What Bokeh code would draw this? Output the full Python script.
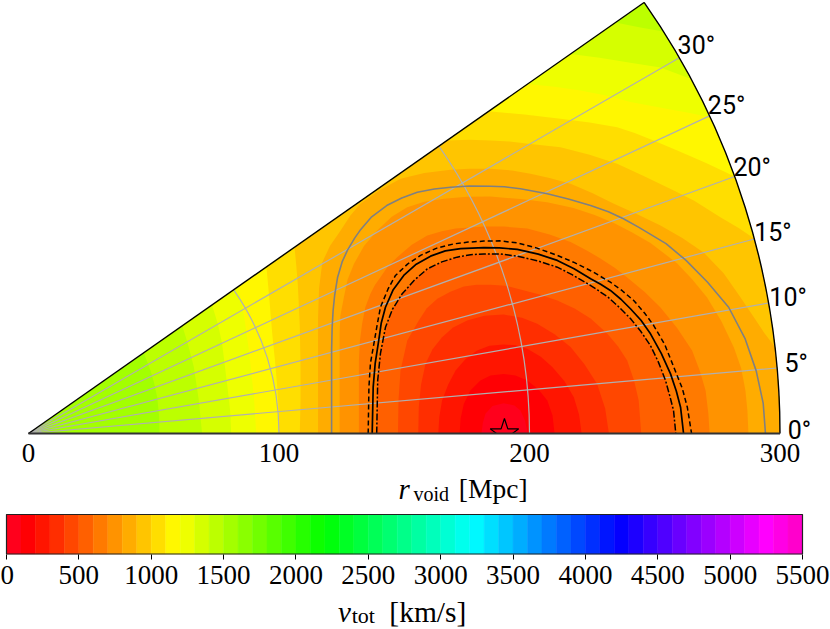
from math import atan2, cos, hypot, radians, sin

import numpy as np
from bokeh.embed import file_html
from bokeh.layouts import column
from bokeh.models import FixedTicker, Label, LinearAxis, Range1d
from bokeh.plotting import figure
from bokeh.resources import INLINE

# contour crossings, in Mpc
x_100 = [180.8, 181.4, 182.4, 185.2, 189.7, 194.0, 196.4, 198.2, 199.3]
y_100 = [0, 4.4, 7.9, 11.0, 12.1, 11.2, 9.2, 5.2, 0]
x_200 = [172.1, 172.5, 173.8, 176.4, 180.4, 184.4, 189.7, 194.4, 199.1, 203.6, 207.1, 209.2, 210.0]
y_200 = [0, 6.0, 11.9, 17.2, 21.2, 23.2, 23.8, 23.2, 21.2, 17.6, 13.2, 7.2, 0]
x_300 = [163.6, 164.0, 165.1, 167.5, 170.5, 174.5, 179.1, 184.0, 189.7, 194.5, 199.1, 204.5, 209.1, 213.9, 217.7, 219.8, 220.8]
y_300 = [0, 6.6, 13.2, 19.5, 25.1, 29.7, 33.1, 35.0, 35.5, 35.2, 33.8, 30.6, 26.5, 21.0, 14.5, 7.5, 0]
x_400 = [155.6, 155.8, 156.7, 158.5, 161.3, 165.1, 169.5, 175.1, 182.0, 189.7, 197.0, 203.1, 210.0, 216.4, 222.0, 227.0, 230.2, 231.7]
y_400 = [0, 10.5, 19.5, 27.8, 33.6, 38.4, 42.3, 45.1, 47.0, 47.5, 46.2, 43.8, 39.6, 34.5, 27.5, 19.8, 10.0, 0]
x_500 = [147.5, 147.7, 148.5, 151.2, 155.8, 159.0, 163.2, 168.4, 173.8, 178.9, 184.4, 190.4, 196.4, 204.0, 211.1, 218.0, 224.4, 231.0, 235.3, 239.0, 241.8, 243.6, 244.6]
y_500 = [0, 13.2, 25.1, 37.1, 45.1, 50.0, 53.8, 56.6, 58.7, 59.4, 59.4, 59.0, 57.5, 55.5, 53.1, 49.9, 45.9, 39.9, 34.8, 29.1, 21.0, 13.2, 0]
x_600 = [139.0, 139.4, 140.5, 142.5, 145.3, 149.2, 154.0, 159.2, 165.0, 171.1, 176.5, 181.8, 188.5, 195.1, 203.0, 211.1, 217.0, 223.0, 227.3, 231.5, 236.0, 240.3, 244.4, 248.3, 251.5, 254.3, 256.0, 257.5, 258.4]
y_600 = [0, 21.2, 32.0, 42.4, 49.6, 55.8, 61.2, 65.7, 68.5, 70.4, 71.4, 71.7, 71.7, 70.8, 69.0, 66.4, 63.4, 59.9, 57.2, 54.3, 50.2, 45.9, 40.8, 35.1, 28.4, 21.2, 15.0, 9.2, 0]
x_700 = [131.9, 131.9, 131.9, 132.3, 133.2, 134.5, 136.5, 138.3, 140.5, 143.5, 147.2, 153.0, 159.2, 165.0, 170.5, 181.6, 190.0, 199.1, 208.0, 216.4, 222.5, 228.3, 234.0, 239.0, 246.0, 252.3, 259.0, 264.9, 268.0, 270.3, 271.4, 271.9]
y_700 = [0, 15.2, 29.1, 37.0, 43.9, 50.5, 55.8, 59.3, 62.4, 66.8, 70.4, 75.3, 79.0, 80.7, 81.8, 82.6, 82.6, 81.8, 79.4, 76.4, 73.3, 69.9, 66.2, 62.3, 56.5, 50.3, 42.0, 33.1, 25.0, 17.2, 8.0, 0]
x_800 = [124.2, 124.2, 124.2, 124.5, 125.9, 127.4, 129.9, 134.0, 139.2, 145.0, 151.2, 158.0, 165.8, 175.0, 184.4, 196.4, 207.0, 217.6, 226.0, 233.7, 241.0, 248.3, 259.0, 265.0, 270.9, 276.5, 281.6, 284.5, 286.2, 287.0, 287.4]
y_800 = [0, 19.2, 39.9, 47.0, 54.4, 61.5, 67.7, 75.0, 81.0, 86.5, 90.3, 92.5, 93.7, 94.5, 94.6, 93.6, 92.3, 90.0, 87.2, 84.0, 80.2, 76.0, 67.9, 61.5, 54.3, 45.0, 34.3, 26.0, 17.2, 9.0, 0]
x_900 = [115.6, 115.6, 115.6, 116.0, 117.3, 120.4, 124.6, 128.5, 132.5, 140.0, 148.5, 158.0, 168.5, 176.0, 184.4, 193.0, 200.4, 208.0, 216.4, 225.0, 233.7, 243.0, 252.3, 261.0, 269.5, 277.5, 284.2, 289.5, 293.8, 298.0]
y_900 = [0, 20.0, 46.4, 58.0, 68.4, 75.0, 81.0, 87.0, 91.7, 97.0, 101.7, 104.0, 105.3, 105.7, 105.7, 105.0, 103.7, 102.0, 99.7, 96.0, 91.7, 87.5, 83.0, 78.0, 72.3, 64.0, 54.4, 46.5, 40.0, 34.5]
x_1000 = [108.3, 108.6, 108.6, 108.3, 107.5, 106.9, 106.2, 167.1, 176.0, 184.4, 192.0, 200.4, 212.4, 224.0, 235.0, 246.0, 257.6, 265.6, 276.2, 283.5, 289.8]
y_1000 = [0, 13.0, 26.5, 43.0, 59.8, 67.0, 74.4, 117.0, 117.3, 117.0, 116.6, 115.6, 114.3, 111.3, 107.7, 102.6, 97.0, 93.0, 86.3, 82.0, 77.7]
x_1100 = [99.9, 99.9, 99.3, 98.4, 97.3, 96.2, 95.0, 183.6, 198.0, 212.4, 224.0, 235.0, 242.0, 249.5, 259.0, 270.5, 281.9]
y_1100 = [0, 9.0, 18.5, 29.0, 39.8, 53.1, 66.5, 128.6, 127.3, 125.6, 124.2, 122.3, 120.0, 117.0, 113.0, 108.0, 102.6]
x_1200 = [90.9, 90.0, 88.0, 86.2, 83.8, 199.2, 210.0, 220.4, 231.0, 240.3, 256.3, 264.0, 272.0]
y_1200 = [0, 14.4, 33.1, 45.9, 58.7, 139.5, 138.4, 136.9, 134.8, 132.3, 129.3, 127.9, 126.2]
x_1300 = [80.9, 80.5, 79.6, 77.3, 75.6, 73.3, 216.4, 228.0, 239.0, 252.3, 264.0]
y_1300 = [0, 9.0, 17.2, 35.8, 43.7, 51.2, 151.5, 150.0, 148.2, 146.1, 141.7]
x_1400 = [69.3, 68.0, 66.0, 63.8, 61.4, 234.3, 244.3, 253.4]
y_1400 = [0, 13.2, 26.5, 35.1, 43.0, 164.1, 162.1, 160.5]
x_1500 = [52.3, 52.1, 51.4, 50.1, 48.7, 46.0, 245.7]
y_1500 = [0, 7.2, 14.4, 20.4, 25.1, 32.2, 172.1]

# the lines drawn over the filled bands
x_solid = [137.2, 137.6, 138.4, 139.8, 140.8, 142.5, 145.6, 149.8, 154.8, 160.5, 166.4, 172.5, 181.8, 188.0, 195.1, 203.5, 211.1, 217.8, 224.4, 228.4, 232.3, 236.5, 240.3, 244.5, 248.3, 252.6, 256.3, 258.6, 260.3, 261.5]
y_solid = [0, 18.5, 28.0, 37.1, 44.0, 50.4, 57.4, 63.1, 67.6, 70.8, 72.9, 73.8, 74.2, 74.1, 73.5, 71.6, 69.1, 65.8, 61.8, 59.6, 57.1, 53.6, 49.8, 45.2, 39.8, 32.0, 23.8, 17.0, 10.5, 0]
x_dashed = [135.6, 135.9, 136.5, 138.1, 139.3, 140.5, 143.5, 146.5, 151.3, 156.5, 163.0, 169.8, 175.5, 181.8, 188.0, 195.1, 203.0, 211.1, 218.0, 225.0, 232.3, 237.0, 241.6, 246.0, 249.6, 254.0, 257.6, 261.0, 263.0, 264.7]
y_dashed = [0, 18.5, 28.0, 37.1, 44.0, 50.4, 57.6, 63.1, 67.6, 71.1, 74.0, 75.7, 76.4, 76.8, 76.9, 76.1, 74.0, 71.1, 68.2, 64.7, 60.4, 57.0, 53.1, 48.0, 43.1, 35.5, 26.5, 18.0, 10.5, 0]
x_gray = [121.0, 121.0, 121.0, 121.2, 121.6, 122.2, 123.4, 125.2, 127.3, 130.2, 132.3, 137.0, 143.0, 149.0, 155.2, 162.0, 168.5, 176.0, 184.4, 190.0, 196.4, 207.1, 215.5, 224.4, 231.5, 237.5, 243.5, 254.5, 262.5, 271.0, 279.5, 286.0, 290.5, 293.3, 294.2]
y_gray = [0, 16.0, 33.1, 42.0, 49.1, 55.0, 62.4, 68.5, 73.1, 78.0, 81.0, 86.5, 91.0, 94.0, 96.3, 97.6, 98.3, 98.8, 98.7, 98.5, 97.7, 95.7, 93.6, 91.0, 88.5, 85.7, 82.4, 75.8, 69.1, 60.5, 50.4, 38.0, 25.0, 12.0, 0]

contours = [
    (1500, x_1500, y_1500), (1400, x_1400, y_1400), (1300, x_1300, y_1300),
    (1200, x_1200, y_1200), (1100, x_1100, y_1100), (1000, x_1000, y_1000),
    (900, x_900, y_900), (800, x_800, y_800), (700, x_700, y_700),
    (600, x_600, y_600), (500, x_500, y_500), (400, x_400, y_400),
    (300, x_300, y_300), (200, x_200, y_200), (100, x_100, y_100),
]

star_r = [190]
r_ticks = [0, 100, 200, 300]
grid_angles = [5, 10, 15, 20, 25, 30]
grid_radii = [100, 200]
angle_labels = [0, 5, 10, 15, 20, 25, 30]
angle_label_dx = [19.5, 19, 19.5, 18.5, 17.5, 17, 17]
angle_label_dy = [3, 4.5, 5.5, 6.5, 9, 10, 12]
v_edges = list(range(0, 5600, 100))
v_ticks = list(range(0, 6000, 500))

R_MAX = 300
OPEN = radians(35)
SCALE = 2.505  # pixels per Mpc
BAR_SCALE = 5500 / 796  # km/s per pixel

# gist_rainbow
cm_t = [0, 0.03, 0.215, 0.4, 0.586, 0.77, 0.954, 1]
cm_r = [1, 1, 1, 0, 0, 0, 1, 1]
cm_g = [0, 0, 1, 1, 1, 0, 0, 0]
cm_b = [0.16, 0, 0, 0, 1, 1, 1, 0.75]


def band_color(v):
    t = v / 5500
    rgb = [np.interp(t, cm_t, c) for c in (cm_r, cm_g, cm_b)]
    return "#%02x%02x%02x" % tuple(int(round(255 * c)) for c in rgb)


band_colors = [band_color((a + b) / 2) for a, b in zip(v_edges[:-1], v_edges[1:])]


def region(xs, ys):
    # area below a level: follow the rim back down when the contour ends on it
    xs, ys = list(xs), list(ys)
    if hypot(xs[-1], ys[-1]) > 295 and ys[-1] > 0:
        start = atan2(ys[-1], xs[-1])
        for a in np.linspace(start, 0, 40):
            xs.append(R_MAX * cos(a))
            ys.append(R_MAX * sin(a))
    return xs, ys


# the frame fills the figure, so the labels below the wedge are not clipped
p1 = figure(width=830, height=512, output_backend="svg", toolbar_location=None,
            x_range=Range1d(-28 / SCALE, 802 / SCALE), y_range=Range1d(-79 / SCALE, 433 / SCALE),
            x_axis_location=None, y_axis_location=None, min_border=0, outline_line_color=None, frame_align=False)
p1.grid.visible = False

p1.wedge(x=[0], y=[0], radius=R_MAX, start_angle=0, end_angle=OPEN,
         fill_color=band_colors[15], line_color=None)

patch_xs, patch_ys, patch_colors = [], [], []
for level, xs, ys in contours:
    if len(xs) != len(ys):
        raise ValueError(level)
    px, py = region(xs, ys)
    patch_xs.append(px)
    patch_ys.append(py)
    patch_colors.append(band_colors[level // 100 - 1])
p1.patches(patch_xs, patch_ys, fill_color=patch_colors, line_color=None)

# grid
p1.segment(x0=[0] * len(grid_angles), y0=[0] * len(grid_angles),
           x1=[R_MAX * cos(radians(a)) for a in grid_angles],
           y1=[R_MAX * sin(radians(a)) for a in grid_angles],
           line_color="#b0b0b0", line_width=1.2)
p1.arc(x=[0, 0], y=[0, 0], radius=grid_radii, start_angle=0, end_angle=OPEN,
       line_color="#b0b0b0", line_width=1.2)

# overlaid contours
p1.line(x_gray, y_gray, line_color="#808080", line_width=1.6)
p1.line(x_solid, y_solid, line_color="black", line_width=1.7)
p1.line(x_dashed, y_dashed, line_color="black", line_width=1.5, line_dash="5 3")
p1.line(x_600, y_600, line_color="black", line_width=1.5, line_dash="7 2 2 2")

p1.scatter(x=star_r, y=[0], marker="star", size=30, fill_color=None,
           line_color="black", line_width=1.2)
# the star is cut by the bottom of the wedge
p1.quad(left=[170], right=[210], bottom=[-10], top=[0], fill_color="white", line_color=None)

# frame of the wedge
p1.arc(x=[0], y=[0], radius=R_MAX, start_angle=0, end_angle=OPEN, line_color="black", line_width=1.4)
p1.segment(x0=[0], y0=[0], x1=[R_MAX * cos(OPEN)], y1=[R_MAX * sin(OPEN)], line_color="black", line_width=1.4)
p1.segment(x0=[0], y0=[0], x1=[R_MAX], y1=[0], line_color="#333333", line_width=2)

r_axis = LinearAxis(fixed_location=0, ticker=FixedTicker(ticks=r_ticks), axis_line_color=None,
                    major_tick_line_color=None, minor_tick_line_color=None,
                    major_label_text_font="Liberation Serif", major_label_text_font_size="27px",
                    major_label_text_color="black", major_label_standoff=4)
p1.add_layout(r_axis, "below")

for a, dx, dy in zip(angle_labels, angle_label_dx, angle_label_dy):
    p1.add_layout(Label(x=R_MAX * cos(radians(a)), y=R_MAX * sin(radians(a)), x_offset=dx, y_offset=dy,
                        text="%d\u00b0" % a, text_font="Roboto", text_font_size="25px", text_color="black",
                        text_align="center", text_baseline="middle"))

p1.add_layout(Label(x=147.7, y=-22.1, text="r", text_font="Liberation Serif", text_font_style="italic",
                    text_font_size="29px", text_color="black", text_baseline="alphabetic"))
p1.add_layout(Label(x=153.7, y=-24.1, text="void", text_font="Liberation Serif",
                    text_font_size="20px", text_color="black", text_baseline="alphabetic"))
p1.add_layout(Label(x=171.8, y=-22.1, text="[Mpc]", text_font="Liberation Serif",
                    text_font_size="27.5px", text_color="black", text_baseline="alphabetic"))

p2 = figure(width=830, height=117, output_backend="svg", toolbar_location=None,
            x_range=Range1d(-6 * BAR_SCALE, 5500 + 28 * BAR_SCALE), y_range=Range1d(-75.5 / 39.5, 1 + 2 / 39.5),
            x_axis_location=None, y_axis_location=None, min_border=0, outline_line_color=None, frame_align=False)
p2.grid.visible = False
p2.quad(left=v_edges[:-1], right=v_edges[1:], bottom=0, top=1,
        fill_color=band_colors, line_color=band_colors, line_width=0.5)
p2.quad(left=[0], right=[5500], bottom=[0], top=[1], fill_color=None, line_color="#222222", line_width=1.2)
v_axis = LinearAxis(fixed_location=0, ticker=FixedTicker(ticks=v_ticks), axis_line_color=None,
                    major_tick_in=0, major_tick_out=5, major_tick_line_color="black",
                    minor_tick_line_color=None, major_label_text_font="Liberation Serif",
                    major_label_text_font_size="27px", major_label_text_color="black", major_label_standoff=7)
p2.add_layout(v_axis, "below")

p2.add_layout(Label(x=2290, y=-1.46, text="v", text_font="Liberation Serif", text_font_style="italic",
                    text_font_size="29px", text_color="black", text_baseline="alphabetic"))
p2.add_layout(Label(x=2385, y=-1.55, text="tot", text_font="Liberation Serif",
                    text_font_size="22px", text_color="black", text_baseline="alphabetic"))
p2.add_layout(Label(x=2645, y=-1.46, text="[km/s]", text_font="Liberation Serif",
                    text_font_size="29.5px", text_color="black", text_baseline="alphabetic"))

p = column(p1, p2, spacing=0)
open("out.html", "w").write(file_html(p, INLINE))
